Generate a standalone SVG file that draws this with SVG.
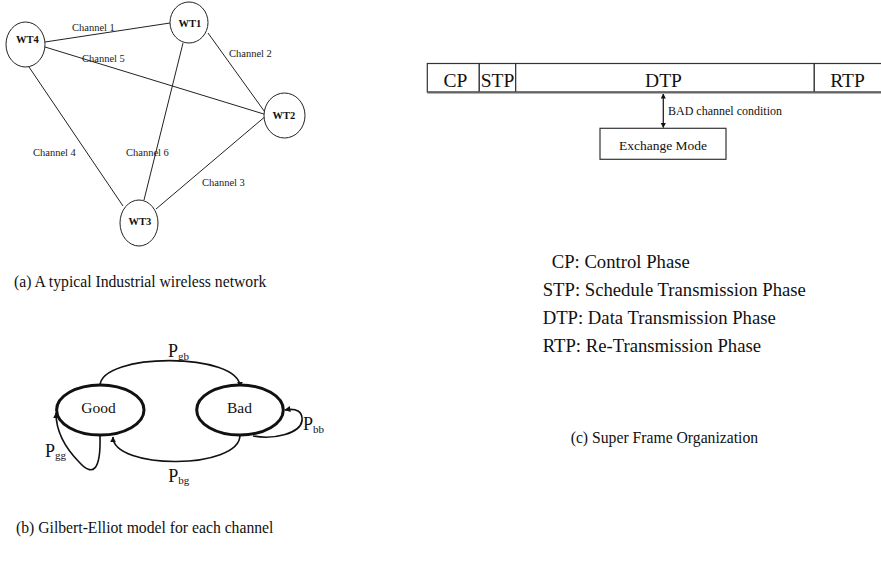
<svg xmlns="http://www.w3.org/2000/svg" width="881" height="563" viewBox="0 0 881 563">
  <defs>
    <style>
      text { font-family: "Liberation Serif", "Times New Roman", serif; fill: #111; }
      .wt { fill: #fff; stroke: #222; stroke-width: 1; }
      .wtlabel { font-size: 10.5px; font-weight: bold; text-anchor: middle; }
      .ch { font-size: 10.5px; fill: #222; }
      .link { stroke: #222; stroke-width: 1; fill: none; }
      .cell { fill: #fff; stroke: #333; stroke-width: 1.2; }
      .phase { font-size: 19.5px; text-anchor: middle; }
      .legend { font-size: 18.7px; }
      .caption { font-size: 15.7px; }
      .state { fill: #fff; stroke: #111; stroke-width: 3; }
      .statelabel { font-size: 15.5px; text-anchor: middle; }
      .trans { stroke: #111; stroke-width: 1.6; fill: none; marker-end: url(#arrow); }
      .prob { font-size: 18px; }
      .sub { font-size: 11px; }
    </style>
    <marker id="arrow" viewBox="0 0 10 10" refX="9" refY="5" markerWidth="6" markerHeight="6" markerUnits="userSpaceOnUse" orient="auto">
      <path d="M0,0 L10,5 L0,10 z" fill="#111"/>
    </marker>
    <marker id="tip" viewBox="0 0 10 10" refX="9" refY="5" markerWidth="5" markerHeight="5" markerUnits="userSpaceOnUse" orient="auto-start-reverse">
      <path d="M0,0 L10,5 L0,10 z" fill="#111"/>
    </marker>
  </defs>
  <rect width="881" height="563" fill="#fff"/>

  <!-- (a) wireless network links -->
  <g id="network-links">
    <line class="link" x1="45" y1="42" x2="170" y2="23"/>
    <line class="link" x1="45" y1="47" x2="267" y2="115"/>
    <line class="link" x1="29" y1="67" x2="123" y2="206"/>
    <line class="link" x1="208" y1="33" x2="267" y2="115"/>
    <line class="link" x1="183" y1="43" x2="144" y2="200"/>
    <line class="link" x1="156" y1="209" x2="267" y2="115"/>
    <text class="ch" x="72" y="31">Channel 1</text>
    <text class="ch" x="82" y="62">Channel 5</text>
    <text class="ch" x="229" y="57">Channel 2</text>
    <text class="ch" x="33" y="156">Channel 4</text>
    <text class="ch" x="126" y="156">Channel 6</text>
    <text class="ch" x="202" y="186">Channel 3</text>
  </g>
  <g id="WT4">
    <ellipse class="wt" cx="25.5" cy="44.5" rx="19.5" ry="22.5"/>
    <text class="wtlabel" x="27.5" y="43">WT4</text>
  </g>
  <g id="WT1">
    <ellipse class="wt" cx="189" cy="22.5" rx="19" ry="20.5"/>
    <text class="wtlabel" x="190" y="27">WT1</text>
  </g>
  <g id="WT2">
    <ellipse class="wt" cx="284.5" cy="115.5" rx="20.5" ry="22.5"/>
    <text class="wtlabel" x="284" y="119">WT2</text>
  </g>
  <g id="WT3">
    <ellipse class="wt" cx="139" cy="223" rx="19" ry="23"/>
    <text class="wtlabel" x="140" y="225">WT3</text>
  </g>
  <text class="caption" x="14" y="287.3">(a) A typical Industrial wireless network</text>

  <!-- (b) Gilbert-Elliot two-state channel model -->
  <g id="transitions">
    <path class="trans" d="M100,386 C100,352 240,352 240,387"/>
    <path class="trans" d="M240,435 C240,470 113,470 113,437"/>
    <path class="trans" d="M100,436 C101,472 92,476 80,463 C66,449 56,432 56,413"/>
    <path class="trans" d="M253,436 C275,440 300,433 302,421 C303,411 296,408 285,410"/>
    <text class="prob" x="168" y="357">P<tspan class="sub" dy="2.5">gb</tspan></text>
    <text class="prob" x="168.3" y="481.7">P<tspan class="sub" dy="2.5">bg</tspan></text>
    <text class="prob" x="45" y="456.7">P<tspan class="sub" dy="2.5">gg</tspan></text>
    <text class="prob" x="303" y="430">P<tspan class="sub" dy="2.5">bb</tspan></text>
  </g>
  <g id="Good">
    <ellipse class="state" cx="100.3" cy="410" rx="43.7" ry="25"/>
    <text class="statelabel" x="98.5" y="412.7">Good</text>
  </g>
  <g id="Bad">
    <ellipse class="state" cx="240" cy="410" rx="43.3" ry="25"/>
    <text class="statelabel" x="239.5" y="412.7">Bad</text>
  </g>
  <text class="caption" x="16" y="533.3">(b) Gilbert-Elliot model for each channel</text>

  <!-- (c) super frame -->
  <g id="CP">
    <rect class="cell" x="427.3" y="63.5" width="52" height="28.5"/>
    <text class="phase" x="455.5" y="87">CP</text>
  </g>
  <g id="STP">
    <rect class="cell" x="479.3" y="63.5" width="36.4" height="28.5"/>
    <text class="phase" x="497.5" y="87">STP</text>
  </g>
  <g id="DTP">
    <rect class="cell" x="515.7" y="63.5" width="298.6" height="28.5"/>
    <text class="phase" x="663.5" y="87">DTP</text>
  </g>
  <g id="RTP">
    <rect class="cell" x="814.3" y="63.5" width="70" height="28.5"/>
    <text class="phase" x="847.5" y="87">RTP</text>
  </g>
  <line x1="427.3" y1="92.4" x2="881" y2="92.4" stroke="#666" stroke-width="2"/>
  <g id="exchange-link">
    <line x1="663.3" y1="94" x2="663.3" y2="127.5" stroke="#222" stroke-width="1.3" marker-start="url(#tip)" marker-end="url(#tip)"/>
    <text x="668" y="115" font-size="12">BAD channel condition</text>
  </g>
  <g id="ExchangeMode">
    <rect class="cell" x="600" y="128.3" width="126" height="31"/>
    <text x="663" y="150" font-size="13.5" text-anchor="middle">Exchange Mode</text>
  </g>

  <text class="legend" x="551.7" y="268.3">CP: Control Phase</text>
  <text class="legend" x="542.7" y="296">STP: Schedule Transmission Phase</text>
  <text class="legend" x="542.7" y="323.5">DTP: Data Transmission Phase</text>
  <text class="legend" x="542.7" y="351.5">RTP: Re-Transmission Phase</text>
  <text class="caption" x="570.7" y="443.3">(c) Super Frame Organization</text>
</svg>
